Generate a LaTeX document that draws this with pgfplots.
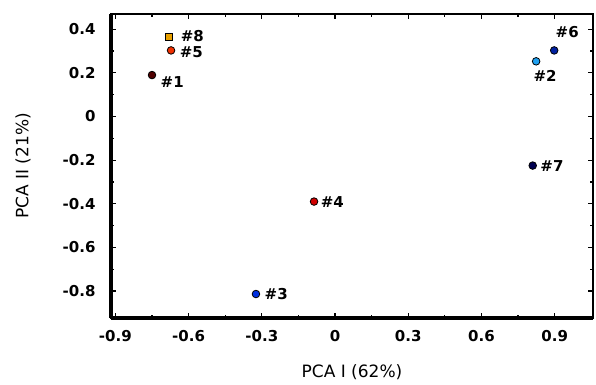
\documentclass[border=0pt]{standalone}
\usepackage{pgfplots}
\pgfplotsset{compat=1.18}
\usepackage{fontspec}
\setmainfont{DejaVu Sans}
\begin{document}
\begin{tikzpicture}
\path[use as bounding box] (-111pt,-66pt) rectangle (485pt,318pt);
\begin{axis}[
  at={(0,0)}, anchor=south west,
  scale only axis, width=482pt, height=304pt,
  xmin=-0.918, xmax=1.057, ymin=-0.924, ymax=0.47,
  xtick={-0.9,-0.6,-0.3,0,0.3,0.6,0.9},
  ytick={-0.8,-0.6,-0.4,-0.2,0,0.2,0.4},
  xticklabels={\textbf{-0.9},\textbf{-0.6},\textbf{-0.3},\textbf{0},\textbf{0.3},\textbf{0.6},\textbf{0.9}},
  yticklabels={\textbf{-0.8},\textbf{-0.6},\textbf{-0.4},\textbf{-0.2},\textbf{0},\textbf{0.2},\textbf{0.4}},
  minor x tick num=1, minor y tick num=1,
  tick align=inside, tickpos=both,
  major tick length=5pt, minor tick length=3pt,
  every tick/.style={black, line width=1.2pt},
  axis line style={line width=1.5pt},
  tick label style={font=\fontsize{15}{17}\selectfont},
  xticklabel style={yshift=-9pt},
  yticklabel style={xshift=-12pt},
  xlabel={PCA I (62\%)}, ylabel={PCA II (21\%)},
  label style={font=\fontsize{17}{19}\selectfont},
  xlabel style={at={(axis description cs:0.5,0)}, anchor=center, yshift=-54pt},
  ylabel style={at={(axis description cs:0,0.5)}, anchor=center, yshift=88pt},
  clip=false,
  every node near coord/.style={font=\fontsize{15}{17}\selectfont\bfseries, black},
]
\draw[line width=4pt] (rel axis cs:0,0) -- (rel axis cs:0,1);
\draw[line width=3.5pt] (rel axis cs:0,0) -- (rel axis cs:1,0);
\draw[line width=2.5pt] (rel axis cs:0,1) -- (rel axis cs:1,1);
\addplot[only marks, mark=*, mark size=3.8pt, mark options={fill={rgb,255:red,80;green,0;blue,0}, draw=black, line width=0.8pt},
  nodes near coords={\#1}, nodes near coords align={anchor=west, xshift=5pt, yshift=-7pt}] coordinates {(-0.75,0.19)};
\addplot[only marks, mark=*, mark size=3.8pt, mark options={fill={rgb,255:red,32;green,160;blue,240}, draw=black, line width=0.8pt},
  nodes near coords={\#2}, nodes near coords align={anchor=north, xshift=9pt, yshift=-5pt}] coordinates {(0.824,0.253)};
\addplot[only marks, mark=*, mark size=3.8pt, mark options={fill={rgb,255:red,0;green,48;blue,224}, draw=black, line width=0.8pt},
  nodes near coords={\#3}, nodes near coords align={anchor=west, xshift=5pt}] coordinates {(-0.324,-0.814)};
\addplot[only marks, mark=*, mark size=3.8pt, mark options={fill={rgb,255:red,208;green,0;blue,0}, draw=black, line width=0.8pt},
  nodes near coords={\#4}, nodes near coords align={anchor=west, xshift=3pt}] coordinates {(-0.086,-0.39)};
\addplot[only marks, mark=*, mark size=3.8pt, mark options={fill={rgb,255:red,240;green,48;blue,0}, draw=black, line width=0.8pt},
  nodes near coords={\#5}, nodes near coords align={anchor=west, xshift=5pt, yshift=-2pt}] coordinates {(-0.672,0.303)};
\addplot[only marks, mark=*, mark size=3.8pt, mark options={fill={rgb,255:red,0;green,32;blue,160}, draw=black, line width=0.8pt},
  nodes near coords={\#6}, nodes near coords align={anchor=south, xshift=13pt, yshift=9pt}] coordinates {(0.898,0.303)};
\addplot[only marks, mark=*, mark size=3.8pt, mark options={fill={rgb,255:red,0;green,0;blue,80}, draw=black, line width=0.8pt},
  nodes near coords={\#7}, nodes near coords align={anchor=west, xshift=4pt}] coordinates {(0.81,-0.225)};
\addplot[only marks, mark=square*, mark size=3.5pt, mark options={fill={rgb,255:red,232;green,160;blue,0}, draw=black, line width=0.8pt},
  nodes near coords={\#8}, nodes near coords align={anchor=west, xshift=8pt, yshift=1pt}] coordinates {(-0.68,0.363)};
\end{axis}
\end{tikzpicture}
\end{document}
